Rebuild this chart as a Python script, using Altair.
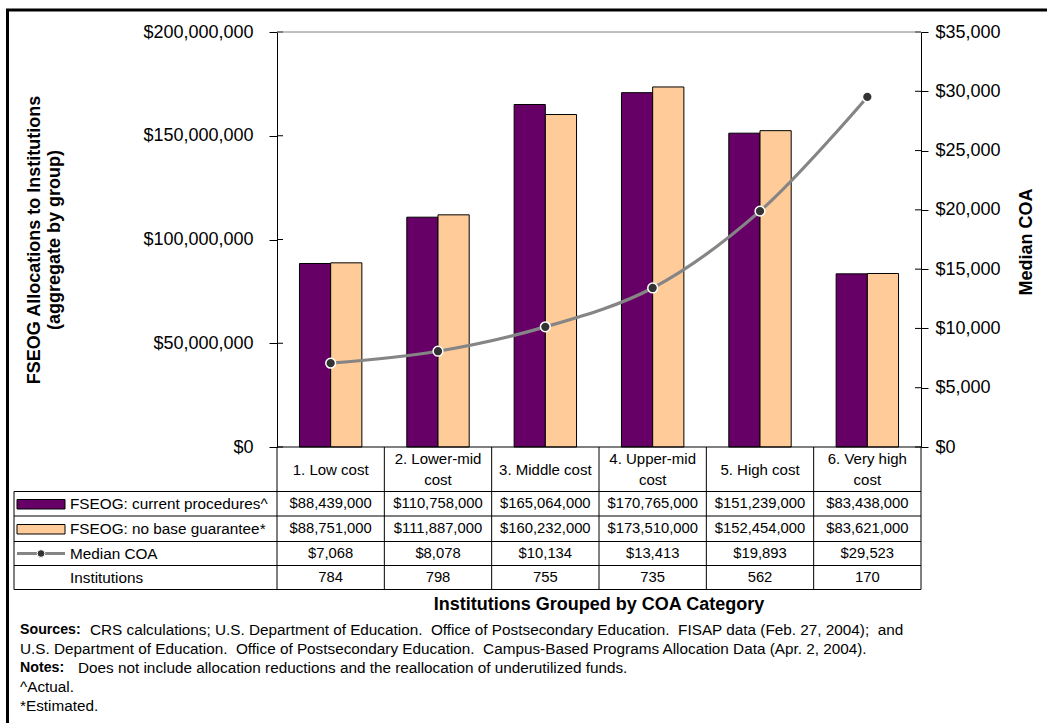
import altair as alt
import pandas as pd

# ---------------- data ----------------
categories = ["1. Low cost", "2. Lower-mid cost", "3. Middle cost",
              "4. Upper-mid cost", "5. High cost", "6. Very high cost"]
header_labels = ["1. Low cost", "2. Lower-mid\ncost", "3. Middle cost",
                 "4. Upper-mid\ncost", "5. High cost", "6. Very high\ncost"]
series_names = ["FSEOG: current procedures^", "FSEOG: no base guarantee*"]
series_colors = ["#660066", "#FFCC99"]
current_proc = [88439000, 110758000, 165064000, 170765000, 151239000, 83438000]
no_base = [88751000, 111887000, 160232000, 173510000, 152454000, 83621000]
median_coa = [7068, 8078, 10134, 13413, 19893, 29523]
institutions = [784, 798, 755, 735, 562, 170]
left_ticks = [0, 50000000, 100000000, 150000000, 200000000]
right_ticks = [0, 5000, 10000, 15000, 20000, 25000, 30000, 35000]

FONT = "Liberation Sans"
W, H = 644, 415

bars_df = pd.DataFrame(
    [{"cat": c, "series": series_names[0], "value": v} for c, v in zip(categories, current_proc)]
    + [{"cat": c, "series": series_names[1], "value": v} for c, v in zip(categories, no_base)]
)
line_df = pd.DataFrame({"cat": categories, "coa": median_coa})
table_df = pd.DataFrame({
    "cat": categories,
    "hdr": header_labels,
    "cur": [f"${v:,}" for v in current_proc],
    "nob": [f"${v:,}" for v in no_base],
    "coa": [f"${v:,}" for v in median_coa],
    "inst": [str(v) for v in institutions],
})
lt_df = pd.DataFrame({"value": left_ticks})
rt_df = pd.DataFrame({"coa": right_ticks})
one = pd.DataFrame({"a": [0]})

xscale = alt.Scale(domain=categories, paddingInner=0, paddingOuter=0)
xenc = alt.X("cat:N", scale=xscale, axis=None)

left_axis = alt.Axis(orient="left", values=left_ticks, format="$,.0f", title=None,
                     grid=False, domainColor="black", tickColor="black", tickSize=8,
                     labelPadding=16, labelFont=FONT, labelFontSize=18, labelColor="black")
right_axis = alt.Axis(orient="right", values=right_ticks, format="$,.0f", title=None,
                      grid=False, domainColor="black", tickColor="black", tickSize=7,
                      labelPadding=7, labelFont=FONT, labelFontSize=18, labelColor="black")
yleft = alt.Y("value:Q", scale=alt.Scale(domain=[0, 200000000], nice=False), axis=left_axis)
yright = alt.Y("coa:Q", scale=alt.Scale(domain=[0, 35000], nice=False), axis=right_axis)


def hrule(x1, x2, y, color="black", width=1):
    return alt.Chart(one).mark_rule(color=color, strokeWidth=width).encode(
        x=alt.value(x1), x2=alt.value(x2), y=alt.value(y))


def vrule(x, y1, y2, color="black", width=1):
    return alt.Chart(one).mark_rule(color=color, strokeWidth=width).encode(
        x=alt.value(x), y=alt.value(y1), y2=alt.value(y2))


def label(text, x, y, size=14.5, bold=False, align="left", angle=0):
    kw = dict(text=text, font=FONT, fontSize=size, align=align, baseline="middle",
              color="black", fontWeight="bold" if bold else "normal")
    if angle:
        kw["angle"] = angle
    return alt.Chart(one).mark_text(**kw).encode(x=alt.value(x), y=alt.value(y))


# ---------------- plot ----------------
bars = alt.Chart(bars_df).mark_bar(stroke="black", strokeWidth=1).encode(
    x=xenc,
    xOffset=alt.XOffset("series:N", scale=alt.Scale(domain=series_names, paddingInner=0, paddingOuter=0.72)),
    y=yleft,
    color=alt.Color("series:N", scale=alt.Scale(domain=series_names, range=series_colors), legend=None),
)
left_in = alt.Chart(lt_df).mark_rule(color="black", strokeWidth=1).encode(
    y=yleft, x=alt.value(0), x2=alt.value(6))

line = alt.Chart(line_df).mark_line(color="#858585", strokeWidth=3.2, interpolate="catmull-rom").encode(
    x=xenc, y=yright)
pts = alt.Chart(line_df).mark_point(filled=True, fill="#333333", stroke="white", strokeWidth=1.5,
                                    size=95, opacity=1).encode(x=xenc, y=yright)
right_in = alt.Chart(rt_df).mark_rule(color="black", strokeWidth=1).encode(
    y=yright, x=alt.value(W - 6), x2=alt.value(W))

left_layer = alt.layer(bars, left_in)
right_layer = alt.layer(line, pts, right_in)

# ---------------- table ----------------
rows_y = [H, 459.5, 484, 509.5, 533.5, 557.5]
TL = -263
table_layers = [hrule(0, W, 0, color="#808080")]
table_layers.append(hrule(0, W, rows_y[0]))
for yy in rows_y[1:]:
    table_layers.append(hrule(TL, W, yy))
table_layers.append(vrule(TL, rows_y[1], rows_y[-1]))
table_layers.append(alt.Chart(table_df).mark_rule(color="black", strokeWidth=1).encode(
    x=alt.X("cat:N", bandPosition=0, scale=xscale, axis=None),
    y=alt.value(rows_y[0]), y2=alt.value(rows_y[-1])))
table_layers.append(vrule(W, rows_y[0], rows_y[-1]))

# category header: single-line labels centred, two-line labels start higher
table_layers.append(alt.Chart(table_df).transform_filter("indexof(datum.hdr, '\\n') < 0").mark_text(
    font=FONT, fontSize=15, baseline="middle", color="black").encode(
    x=xenc, y=alt.value(437.5), text="hdr:N"))
table_layers.append(alt.Chart(table_df).transform_filter("indexof(datum.hdr, '\\n') >= 0").mark_text(
    font=FONT, fontSize=15, lineBreak="\n", lineHeight=21, baseline="middle", color="black").encode(
    x=xenc, y=alt.value(427), text="hdr:N"))
for col, yy in zip(["cur", "nob", "coa", "inst"], [472, 497, 521.5, 545.5]):
    table_layers.append(alt.Chart(table_df).mark_text(font=FONT, fontSize=14.8, baseline="middle",
                                                      color="black").encode(
        x=xenc, y=alt.value(yy), text=f"{col}:N"))

# row headers with legend keys
table_layers.append(alt.Chart(one).mark_rect(fill=series_colors[0], stroke="black", strokeWidth=1).encode(
    x=alt.value(-260), x2=alt.value(-212), y=alt.value(467.5), y2=alt.value(477)))
table_layers.append(alt.Chart(one).mark_rect(fill=series_colors[1], stroke="black", strokeWidth=1).encode(
    x=alt.value(-260), x2=alt.value(-212), y=alt.value(492.5), y2=alt.value(502)))
table_layers.append(hrule(-260, -212, 521.5, color="#858585", width=3))
table_layers.append(alt.Chart(one).mark_point(filled=True, fill="#333333", stroke="white", strokeWidth=1,
                                              size=60, opacity=1).encode(x=alt.value(-236), y=alt.value(521.5)))
table_layers.append(label(series_names[0], -207, 472, size=15.3))
table_layers.append(label(series_names[1], -207, 497, size=15.3))
table_layers.append(label("Median COA", -207, 521.5, size=15.3))
table_layers.append(label("Institutions", -207, 545.5, size=15.3))

# ---------------- titles & notes ----------------
NS = 15.3
ny = [598, 617, 636, 655, 674]
texts = [
    label("Institutions Grouped by COA Category", W / 2, 573, size=18, bold=True, align="center"),
    label("FSEOG Allocations to Institutions", -242, 208, size=18, bold=True, align="center", angle=270),
    label("(aggregate by group)", -222, 208, size=18, bold=True, align="center", angle=270),
    label("Median COA", 750, 210, size=18, bold=True, align="center", angle=270),
    label("Sources:", -257, ny[0], size=14.2, bold=True),
    label("CRS calculations; U.S. Department of Education.\u00a0 Office of Postsecondary Education.\u00a0 "
          "FISAP data (Feb. 27, 2004);\u00a0 and", -187, ny[0], size=NS),
    label("U.S. Department of Education.\u00a0 Office of Postsecondary Education.\u00a0 "
          "Campus-Based Programs Allocation Data (Apr. 2, 2004).", -257, ny[1], size=NS),
    label("Notes:", -257, ny[2], size=14.2, bold=True),
    label("Does not include allocation reductions and the reallocation of underutilized funds.",
          -199, ny[2], size=NS),
    label("^Actual.", -257, ny[3], size=NS),
    label("*Estimated.", -257, ny[4], size=NS),
]

border = alt.Chart(one).mark_rect(fillOpacity=0, stroke="black", strokeWidth=3).encode(
    x=alt.value(-269.5), x2=alt.value(800), y=alt.value(-22), y2=alt.value(720))

chart = alt.layer(
    border, left_layer, right_layer, *table_layers, *texts
).resolve_scale(y="independent").properties(
    width=W, height=H,
    autosize=alt.AutoSizeParams(type="none"),
    padding={"left": 277, "top": 32, "right": 126, "bottom": 276},
    background="white",
).configure_view(strokeWidth=0)

chart.save("out.html", embed_options={"renderer": "svg", "actions": False})
